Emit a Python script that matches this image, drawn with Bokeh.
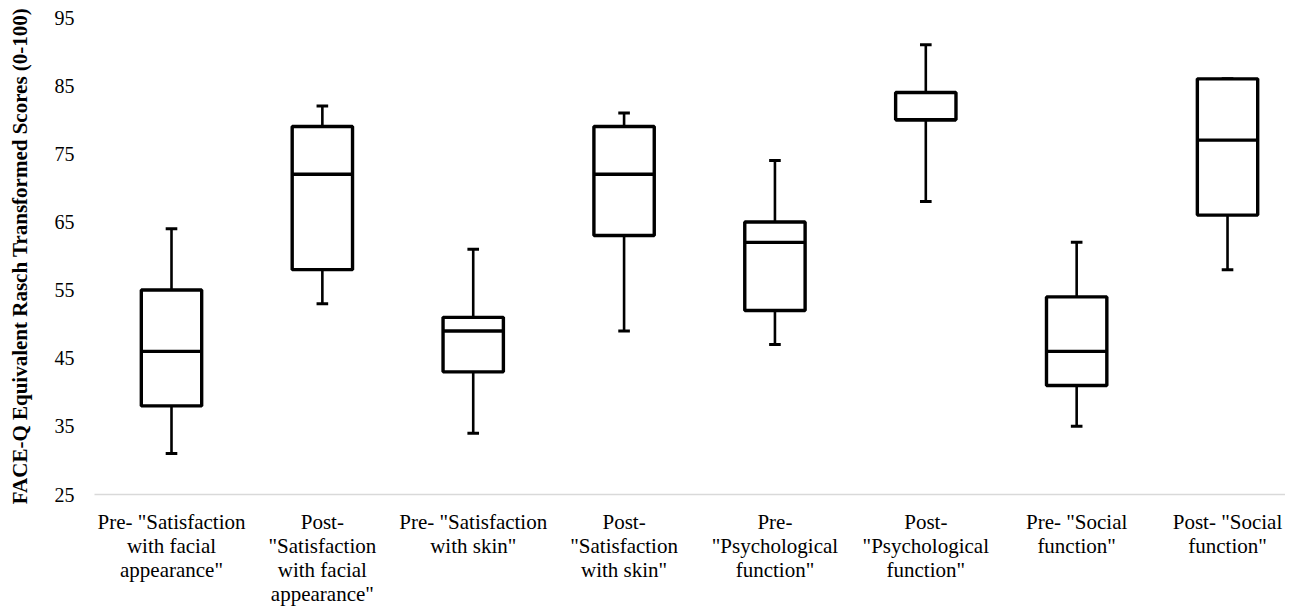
from bokeh.plotting import figure
from bokeh.models import FixedTicker, Range1d
from bokeh.embed import file_html
from bokeh.resources import INLINE

categories = [
    'Pre- "Satisfaction\nwith facial\nappearance"',
    'Post-\n"Satisfaction\nwith facial\nappearance"',
    'Pre- "Satisfaction\nwith skin"',
    'Post-\n"Satisfaction\nwith skin"',
    'Pre-\n"Psychological\nfunction"',
    'Post-\n"Psychological\nfunction"',
    'Pre- "Social\nfunction"',
    'Post- "Social\nfunction"',
]
whisker_low = [31, 53, 34, 49, 47, 68, 35, 58]
q1 = [38, 58, 43, 63, 52, 80, 41, 66]
median = [46, 72, 49, 72, 62, 80, 46, 77]
q3 = [55, 79, 51, 79, 65, 84, 54, 86]
whisker_high = [64, 82, 61, 81, 74, 91, 62, 86]
y_ticks = [25, 35, 45, 55, 65, 75, 85, 95]
y_title = "FACE-Q Equivalent Rasch Transformed Scores (0-100)"

FONT = "Liberation Serif"
xs = list(range(len(categories)))
box_w = 0.40
cap_w = 0.077

p = figure(width=1285, height=608, output_backend="svg", toolbar_location=None,
           x_range=Range1d(-0.5104, 7.3843), y_range=Range1d(y_ticks[0], y_ticks[-1]),
           min_border_left=94, min_border_right=0, min_border_top=17, min_border_bottom=108)
p.outline_line_color = None
p.xgrid.visible = False
p.ygrid.visible = False

# whiskers
p.segment(x0=xs, x1=xs, y0=q3, y1=whisker_high, line_color="black", line_width=2.6)
p.segment(x0=xs, x1=xs, y0=whisker_low, y1=q1, line_color="black", line_width=2.6)
# caps
p.segment(x0=[x - cap_w / 2 for x in xs], x1=[x + cap_w / 2 for x in xs],
          y0=whisker_high, y1=whisker_high, line_color="black", line_width=3)
p.segment(x0=[x - cap_w / 2 for x in xs], x1=[x + cap_w / 2 for x in xs],
          y0=whisker_low, y1=whisker_low, line_color="black", line_width=3)
# boxes
p.vbar(x=xs, width=box_w, bottom=q1, top=q3, fill_color="white",
       line_color="black", line_width=3.4)
# medians
p.segment(x0=[x - box_w / 2 for x in xs], x1=[x + box_w / 2 for x in xs],
          y0=median, y1=median, line_color="black", line_width=3.4)

# x axis
p.xaxis.ticker = FixedTicker(ticks=xs)
p.xaxis.major_label_overrides = {i: c for i, c in enumerate(categories)}
p.xaxis.axis_line_color = "#d9d9d9"
p.xaxis.axis_line_width = 1.5
p.xaxis.major_tick_line_color = None
p.xaxis.minor_tick_line_color = None
p.xaxis.major_label_standoff = 9
p.xaxis.major_label_text_font = FONT
p.xaxis.major_label_text_font_size = "21px"
p.xaxis.major_label_text_color = "black"
p.xaxis.major_label_text_line_height = 1.0

# y axis
p.yaxis.ticker = FixedTicker(ticks=y_ticks)
p.yaxis.axis_line_color = None
p.yaxis.major_tick_line_color = None
p.yaxis.minor_tick_line_color = None
p.yaxis.major_label_standoff = 14
p.yaxis.major_label_text_font = FONT
p.yaxis.major_label_text_font_size = "20px"
p.yaxis.major_label_text_color = "black"
p.yaxis.axis_label = y_title
p.yaxis.axis_label_text_font = FONT
p.yaxis.axis_label_text_font_size = "21px"
p.yaxis.axis_label_text_font_style = "bold"
p.yaxis.axis_label_text_color = "black"
p.yaxis.axis_label_standoff = 20

open("out.html", "w").write(file_html(p, INLINE))
